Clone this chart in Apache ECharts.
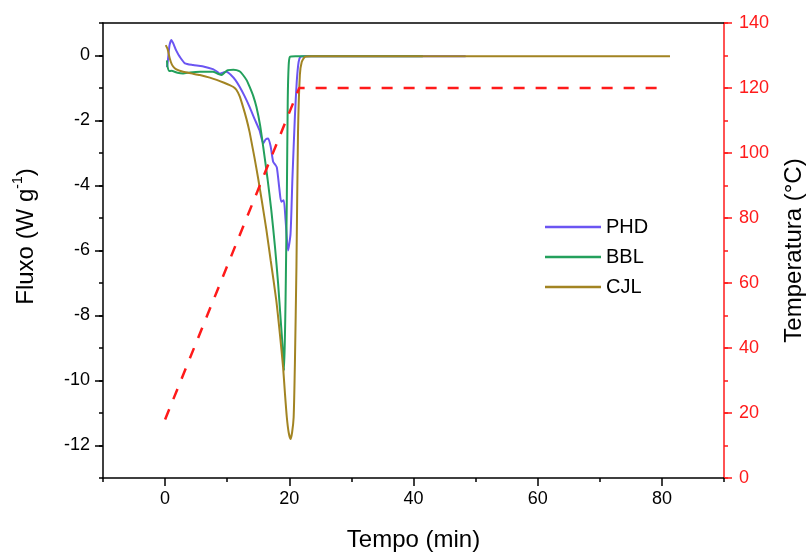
<!DOCTYPE html>
<html>
<head>
<meta charset="utf-8">
<script src="https://cdn.jsdelivr.net/npm/echarts@6/dist/echarts.min.js"></script>
<style>
html,body{margin:0;padding:0;background:#fff;}
#c{width:806px;height:552px;}
</style>
</head>
<body>
<div id="c"></div>
<script>
// ---- Data (time in min, flux in W/g, temperature in °C) ----
const seriesNames = ['PHD', 'BBL', 'CJL'];
const phdData = [[0.3,-0.36],[0.45,-0.15],[0.7,0.3],[1.0,0.48],[1.3,0.38],[1.8,0.15],[2.4,-0.05],[3.2,-0.24],[4.5,-0.29],[6.0,-0.33],[7.7,-0.42],[8.4,-0.5],[8.8,-0.56],[9.4,-0.52],[9.9,-0.5],[10.6,-0.6],[11.3,-0.75],[12.0,-0.96],[12.8,-1.25],[13.6,-1.58],[14.4,-1.95],[15.2,-2.3],[15.8,-2.7],[16.2,-2.58],[16.6,-2.55],[17.0,-2.8],[17.4,-3.27],[17.7,-3.35],[18.0,-3.45],[18.4,-4.1],[18.7,-4.5],[19.1,-4.45],[19.4,-5.07],[19.8,-6.0],[20.2,-5.48],[20.5,-3.8],[20.9,-1.88],[21.2,-0.8],[21.5,-0.2],[21.8,-0.04],[22.5,-0.02],[48.4,-0.02]];
const bblData = [[0.3,-0.15],[0.4,-0.35],[0.7,-0.48],[1.0,-0.47],[2.0,-0.53],[2.9,-0.55],[4.0,-0.52],[5.6,-0.5],[7.0,-0.5],[7.7,-0.5],[8.5,-0.56],[9.1,-0.6],[9.6,-0.52],[10.1,-0.45],[11.0,-0.44],[11.5,-0.45],[12.1,-0.5],[12.55,-0.6],[13.1,-0.75],[13.6,-0.96],[14.2,-1.25],[14.7,-1.58],[15.3,-2.15],[15.8,-2.81],[16.5,-3.8],[17.1,-4.76],[17.7,-5.9],[18.2,-7.02],[18.6,-8.1],[19.0,-9.17],[19.15,-9.69],[19.3,-8.6],[19.4,-7.5],[19.5,-6.0],[19.6,-4.45],[19.75,-1.37],[19.9,-0.3],[20.1,-0.04],[21.0,-0.02],[41.5,-0.02]];
const cjlData = [[0.1,0.32],[0.4,0.2],[0.75,-0.09],[1.1,-0.28],[1.55,-0.39],[2.2,-0.46],[2.9,-0.5],[4.2,-0.55],[5.6,-0.6],[7.2,-0.68],[8.3,-0.75],[9.4,-0.83],[10.4,-0.91],[11.0,-0.97],[11.5,-1.06],[12.0,-1.25],[12.55,-1.58],[13.1,-1.95],[13.6,-2.35],[14.0,-2.75],[14.4,-3.15],[15.0,-3.8],[15.6,-4.5],[16.3,-5.35],[17.0,-6.3],[17.9,-7.53],[18.5,-8.6],[19.0,-9.59],[19.3,-10.4],[19.6,-11.13],[19.9,-11.6],[20.2,-11.8],[20.45,-11.6],[20.7,-11.13],[20.9,-9.5],[21.15,-6.5],[21.4,-2.4],[21.7,-0.6],[22.0,-0.2],[22.5,-0.04],[23.5,-0.02],[81.3,-0.02]];
const tempData = [[0,18],[21.6,120],[80.6,120]];
const xMajorTicks = [0,20,40,60,80];
const yMajorTicks = [-12,-10,-8,-6,-4,-2,0];
const tMajorTicks = [0,20,40,60,80,100,120,140];

const colors = ['#6b55f2', '#23a05c', '#a28422'];
const RED = '#ff1a1a';
const FONT = 'Liberation Sans, Arial, sans-serif';

const chart = echarts.init(document.getElementById('c'), null, {renderer: 'canvas'});

const blackLine = {show: true, onZero: false, lineStyle: {color: '#000', width: 1.5}};
const redLine = {show: true, onZero: false, lineStyle: {color: RED, width: 1.5}};

const option = {
  backgroundColor: '#fff',
  animation: false,
  textStyle: {fontFamily: FONT},
  grid: {left: 103, right: 82, top: 23, bottom: 74, containLabel: false, outerBoundsMode: 'none'},
  legend: {
    data: seriesNames,
    orient: 'vertical',
    left: 545, top: 217,
    itemWidth: 56, itemHeight: 2.5, itemGap: 10,
    icon: 'rect',
    padding: 0,
    textStyle: {fontSize: 20, color: '#000', fontFamily: FONT}
  },
  xAxis: [
    {
      type: 'value', min: -10, max: 90, interval: 10, position: 'bottom',
      name: 'Tempo (min)', nameLocation: 'middle', nameGap: 50,
      nameTextStyle: {fontSize: 24, color: '#000', fontFamily: FONT},
      axisLine: blackLine,
      axisTick: {show: true, length: 4, lineStyle: {color: '#000', width: 1.5}},
      axisLabel: {fontSize: 18, color: '#000', margin: 12, fontFamily: FONT,
        formatter: v => (v % 20 === 0 ? String(v) : '')},
      splitLine: {show: false}
    },
    {
      type: 'value', min: -10, max: 90, position: 'bottom',
      axisLine: {show: false, onZero: false},
      axisTick: {show: true, length: 8, customValues: xMajorTicks, lineStyle: {color: '#000', width: 1.5}},
      axisLabel: {show: false},
      splitLine: {show: false}
    },
    {
      type: 'value', min: -10, max: 90, position: 'top',
      axisLine: blackLine,
      axisTick: {show: false}, axisLabel: {show: false}, splitLine: {show: false}
    }
  ],
  yAxis: [
    {
      type: 'value', min: -13, max: 1, interval: 1, position: 'left',
      name: 'Fluxo (W g{sup|-1})', nameLocation: 'middle', nameGap: 62,
      nameTextStyle: {fontSize: 24, color: '#000', fontFamily: FONT, padding: [0,0,0,28],
        rich: {sup: {fontSize: 14, color: '#000', fontFamily: FONT, verticalAlign: 'top', lineHeight: 30}}},
      axisLine: blackLine,
      axisTick: {show: true, length: 4, lineStyle: {color: '#000', width: 1.5}},
      axisLabel: {fontSize: 18, color: '#000', margin: 13, fontFamily: FONT,
        formatter: v => (v % 2 === 0 ? String(v) : '')},
      splitLine: {show: false}
    },
    {
      type: 'value', min: 0, max: 140, interval: 10, position: 'right',
      name: 'Temperatura (°C)', nameLocation: 'middle', nameGap: 58,
      nameTextStyle: {fontSize: 24, color: '#000', fontFamily: FONT},
      axisLine: redLine,
      axisTick: {show: true, length: 4, lineStyle: {color: RED, width: 1.5}},
      axisLabel: {fontSize: 18, color: RED, margin: 15, fontFamily: FONT,
        formatter: v => (v % 20 === 0 ? String(v) : '')},
      splitLine: {show: false}
    },
    {
      type: 'value', min: -13, max: 1, position: 'left',
      axisLine: {show: false, onZero: false},
      axisTick: {show: true, length: 8, customValues: yMajorTicks, lineStyle: {color: '#000', width: 1.5}},
      axisLabel: {show: false}, splitLine: {show: false}
    },
    {
      type: 'value', min: 0, max: 140, position: 'right',
      axisLine: {show: false, onZero: false},
      axisTick: {show: true, length: 8, customValues: tMajorTicks, lineStyle: {color: RED, width: 1.5}},
      axisLabel: {show: false}, splitLine: {show: false}
    }
  ],
  series: [
    {name: 'PHD', type: 'line', data: phdData, xAxisIndex: 0, yAxisIndex: 0, showSymbol: false, symbol: 'none',
      smooth: 0.2, lineStyle: {color: colors[0], width: 2}, itemStyle: {color: colors[0]}},
    {name: 'BBL', type: 'line', data: bblData, xAxisIndex: 0, yAxisIndex: 0, showSymbol: false, symbol: 'none',
      smooth: 0.2, lineStyle: {color: colors[1], width: 2}, itemStyle: {color: colors[1]}},
    {name: 'CJL', type: 'line', data: cjlData, xAxisIndex: 0, yAxisIndex: 0, showSymbol: false, symbol: 'none',
      smooth: 0.2, lineStyle: {color: colors[2], width: 2}, itemStyle: {color: colors[2]}},
    {name: 'Temperatura', type: 'line', data: tempData, xAxisIndex: 0, yAxisIndex: 1, showSymbol: false, symbol: 'none',
      lineStyle: {color: RED, width: 2.5, type: [11, 11]}, itemStyle: {color: RED}, z: 5}
  ]
};
chart.setOption(option);
</script>
</body>
</html>
